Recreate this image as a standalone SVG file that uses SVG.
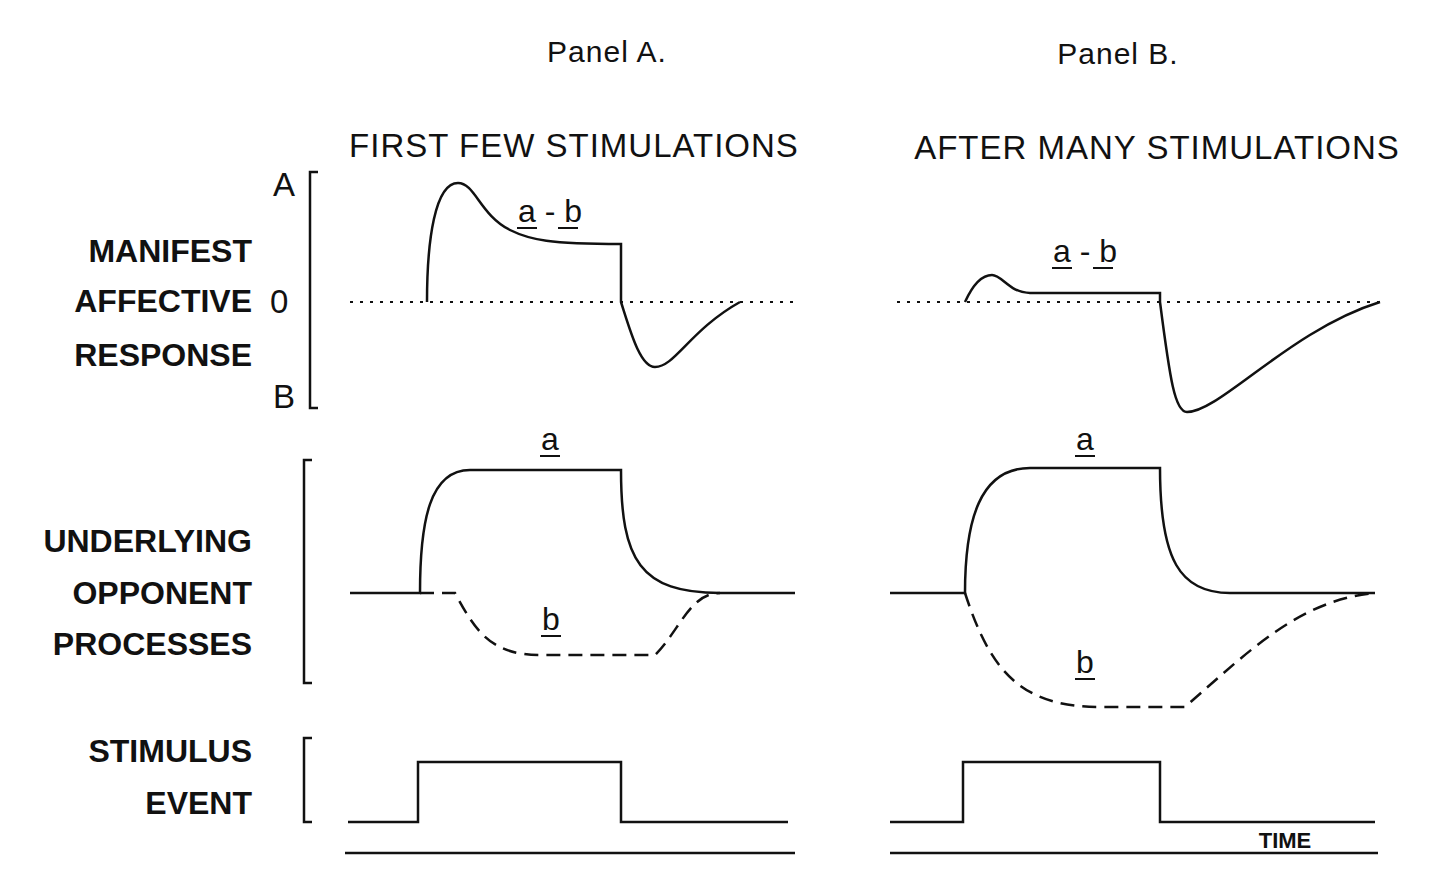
<svg xmlns="http://www.w3.org/2000/svg" width="1440" height="895" viewBox="0 0 1440 895">
<style>
text{font-family:"Liberation Sans",Arial,sans-serif;fill:#111}
.h{font-size:30px;letter-spacing:1px}
.t{font-size:33px;letter-spacing:1px}
.l{font-size:32px;text-anchor:end;font-weight:bold}
.s{font-size:32px;text-anchor:middle}
.ln{fill:none;stroke:#111;stroke-width:2.5}
.dt{fill:none;stroke:#111;stroke-width:2;stroke-dasharray:3 7}
.da{fill:none;stroke:#111;stroke-width:2.5;stroke-dasharray:14 8}
.u{stroke:#111;stroke-width:2}
</style>
<rect width="1440" height="895" fill="#fff"/>
<g id="titles">
<text class="h" x="607" y="62" text-anchor="middle">Panel A.</text>
<text class="h" x="1118" y="64" text-anchor="middle">Panel B.</text>
<text class="t" x="574" y="157" text-anchor="middle">FIRST FEW STIMULATIONS</text>
<text class="t" x="1157" y="159" text-anchor="middle">AFTER MANY STIMULATIONS</text>
</g>
<g id="labels">
<text class="l" x="252" y="262">MANIFEST</text>
<text class="l" x="252" y="312">AFFECTIVE</text>
<text class="l" x="252" y="366">RESPONSE</text>
<text class="l" x="252" y="552">UNDERLYING</text>
<text class="l" x="252" y="604">OPPONENT</text>
<text class="l" x="252" y="655">PROCESSES</text>
<text class="l" x="252" y="762">STIMULUS</text>
<text class="l" x="252" y="814">EVENT</text>
<text class="t" x="273" y="196">A</text>
<text class="t" x="270" y="313">0</text>
<text class="t" x="273" y="408">B</text>
</g>
<g id="brackets">
<path class="ln" d="M318 172H310V408H318"/>
<path class="ln" d="M312 460H304V683H312"/>
<path class="ln" d="M312 738H304V822H312"/>
</g>
<g id="panelA">
<path class="dt" d="M350 302H795"/>
<path class="ln" d="M427 302C427 240 435 183 458 183C475 183 480 215 510 230C530 240 550 244 621 244V302C630 330 640 367 655 367C675 367 690 330 740 302"/>
<text class="s" x="550" y="222">a - b</text>
<path class="u" d="M517 228h20M558 228h20"/>
<path class="ln" d="M350 593H420C420 520 430 470 470 470H621C621 560 640 593 720 593H795"/>
<path class="da" d="M420 593H455C475 630 490 655 540 655H655C680 630 690 593 720 593"/>
<text class="s" x="550" y="450">a</text><path class="u" d="M540 456h20"/>
<text class="s" x="551" y="630">b</text><path class="u" d="M541 636h20"/>
<path class="ln" d="M348 822H418V762H621V822H788"/>
<path class="ln" d="M345 853H795"/>
</g>
<g id="panelB">
<path class="dt" d="M897 302H1380"/>
<path class="ln" d="M965 302C975 280 985 275 992 275C1002 275 1010 293 1030 293H1160V302C1170 380 1175 412 1187 412C1220 412 1290 330 1380 302"/>
<text class="s" x="1085" y="262">a - b</text>
<path class="u" d="M1052 268h20M1093 268h20"/>
<path class="ln" d="M890 593H965C965 520 980 468 1030 468H1160C1160 560 1180 593 1230 593H1375"/>
<path class="da" d="M965 593C990 670 1020 707 1100 707H1185C1250 650 1300 600 1375 593"/>
<text class="s" x="1085" y="450">a</text><path class="u" d="M1075 456h20"/>
<text class="s" x="1085" y="673">b</text><path class="u" d="M1075 679h20"/>
<path class="ln" d="M890 822H963V762H1160V822H1375"/>
<path class="ln" d="M890 853H1378"/>
<text x="1285" y="848" font-size="22" font-weight="bold" text-anchor="middle">TIME</text>
</g>
</svg>
